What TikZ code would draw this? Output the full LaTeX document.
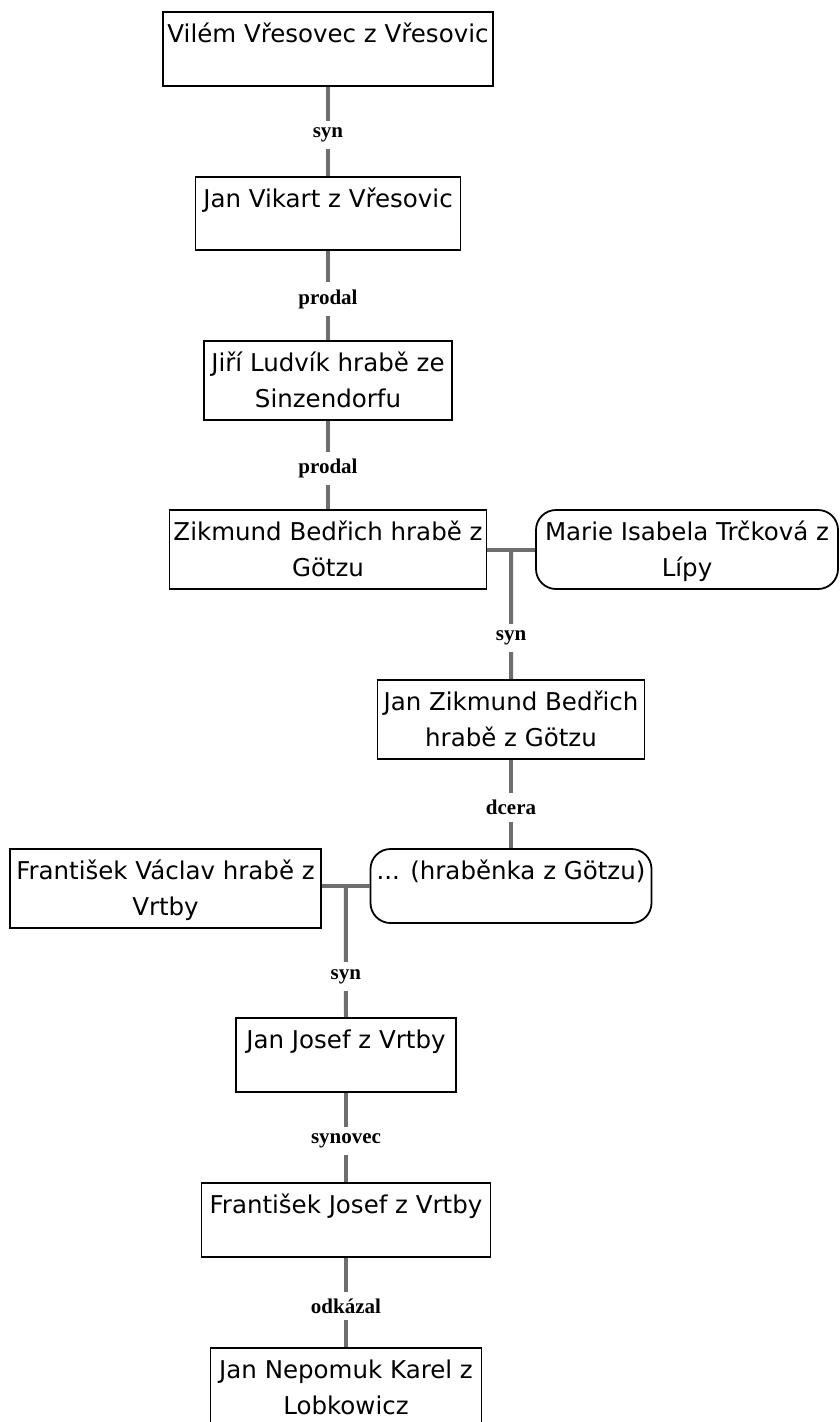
\documentclass[tikz,border=0pt]{standalone}
\usepackage{fontspec}
\setmainfont{DejaVu Sans}
\newfontfamily\lblfont{Liberation Serif}
\usetikzlibrary{calc}
\definecolor{linkgray}{HTML}{6E6E6E}
\newcommand{\bx}[3]{\parbox[c][#2][t]{#1}{\centering\rule{0pt}{30pt}#3}}
\tikzset{
  person/.style={draw=black, line width=1.8pt, inner sep=0pt, fill=white,
    font=\fontsize{24.5}{36.5}\selectfont},
  spouse/.style={person, rounded corners=20pt},
  link/.style={draw=linkgray, line width=4pt},
  lbl/.style={fill=white, inner xsep=2pt, inner ysep=7pt, text=black, yshift=-3.5pt,
    font=\lblfont\bfseries\fontsize{21}{22}\selectfont}
}
\begin{document}
\begin{tikzpicture}[x=1pt,y=-1pt]
\useasboundingbox (0,0) rectangle (839,1422);
% persons
\node[person] (vv)  at (328,49)     {\bx{330pt}{74pt}{Vilém Vřesovec z Vřesovic}};
\node[person] (jv)  at (328,213.5)  {\bx{265pt}{73pt}{Jan Vikart z Vřesovic}};
\node[person] (jl)  at (328,380.5)  {\bx{248pt}{79pt}{Jiří Ludvík hrabě ze\\Sinzendorfu}};
\node[person] (zb)  at (328,549.5)  {\bx{317pt}{79pt}{Zikmund Bedřich hrabě z\\Götzu}};
\node[spouse] (mi)  at (687,549.5)  {\bx{302pt}{79pt}{Marie Isabela Trčková z\\Lípy}};
\node[person] (jzb) at (511,719.5)  {\bx{267pt}{79pt}{Jan Zikmund Bedřich\\hrabě z Götzu}};
\node[person] (fv)  at (165.5,888.5){\bx{311pt}{79pt}{František Václav hrabě z\\Vrtby}};
\node[spouse] (hr)  at (511,886)    {\bx{281pt}{74pt}{... (hraběnka z Götzu)}};
\node[person] (jj)  at (346,1055)   {\bx{220pt}{74pt}{Jan Josef z Vrtby}};
\node[person] (fj)  at (346,1220)   {\bx{289pt}{74pt}{František Josef z Vrtby}};
\node[person] (jn)  at (346,1387.5) {\bx{271pt}{79pt}{Jan Nepomuk Karel z\\Lobkowicz}};
% connectors
\draw[link] (vv.south) -- (jv.north) node[midway,lbl]{syn};
\draw[link] (jv.south) -- (jl.north) node[midway,lbl]{prodal};
\draw[link] (jl.south) -- (zb.north) node[midway,lbl]{prodal};
\coordinate (m1) at ($(zb.east)!0.5!(mi.west)$);
\draw[link] (zb.east) -- (mi.west);
\draw[link] (m1) -- (jzb.north);
\path (m1 |- zb.south) -- (jzb.north) node[midway,lbl]{syn};
\draw[link] (jzb.south) -- (hr.north) node[midway,lbl]{dcera};
\coordinate (m2) at ($(fv.east |- hr.west)!0.5!(hr.west)$);
\draw[link] (fv.east |- hr.west) -- (hr.west);
\draw[link] (m2) -- (jj.north);
\path (m2 |- fv.south) -- (jj.north) node[midway,lbl]{syn};
\draw[link] (jj.south) -- (fj.north) node[midway,lbl]{synovec};
\draw[link] (fj.south) -- (jn.north) node[midway,lbl]{odkázal};
\end{tikzpicture}
\end{document}
